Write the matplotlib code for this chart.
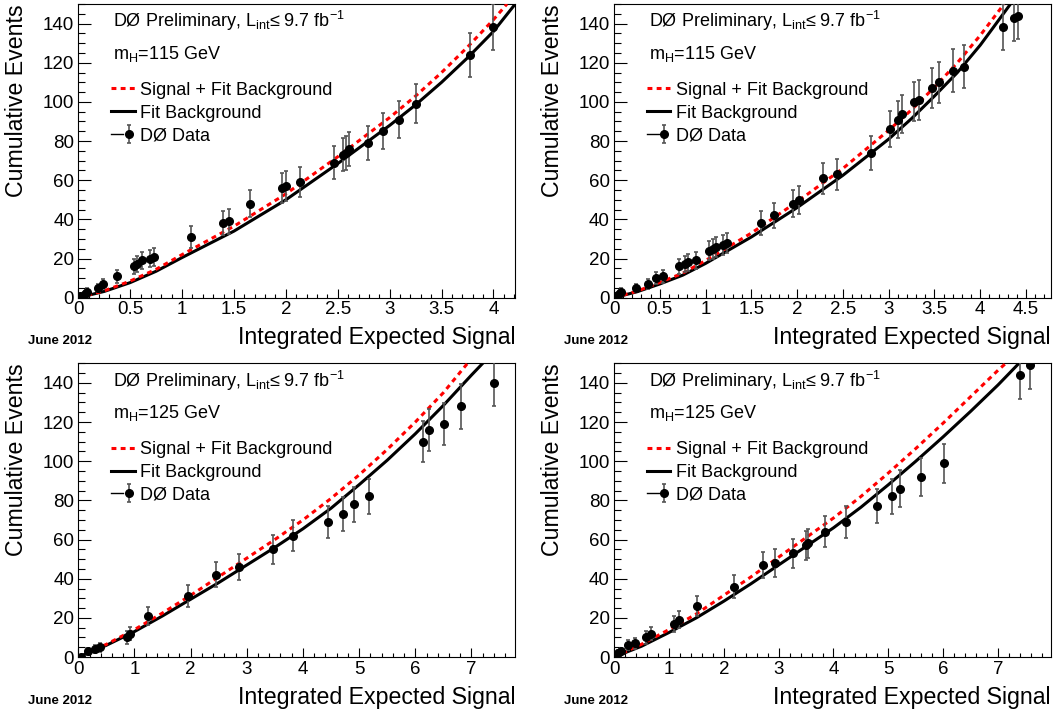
import numpy as np
import matplotlib
matplotlib.use('Agg')
import matplotlib.pyplot as plt
from matplotlib.ticker import MultipleLocator
from matplotlib.lines import Line2D
from matplotlib.legend_handler import HandlerTuple

plt.rcParams['font.family'] = ['Liberation Sans', 'DejaVu Sans']
plt.rcParams['mathtext.fontset'] = 'custom'
plt.rcParams['mathtext.rm'] = 'Liberation Sans'
plt.rcParams['mathtext.it'] = 'Liberation Sans:italic'

# ---- panel 1 : mH = 115 GeV (left) ----
data1_x = [0.02, 0.06, 0.08, 0.19, 0.24, 0.37, 0.54, 0.57, 0.61, 0.69, 0.73, 1.09, 1.395, 1.45,
           1.65, 1.96, 2.0, 2.14, 2.46, 2.55, 2.58, 2.61, 2.79, 2.94, 3.09, 3.25, 3.77, 4.0]
data1_y = [1, 2, 3, 5, 7, 11, 16, 17, 19, 20, 21, 31, 38, 39,
           48, 56, 57, 59, 69, 73, 74, 76, 79, 85, 91, 99, 124, 138]
bkg1_x = [0, 0.25, 0.5, 0.75, 1, 1.5, 2, 2.5, 3, 3.25, 3.5, 3.75, 4, 4.21]
bkg1_y = [0, 3.2, 7.7, 13.5, 20.5, 34, 50, 68.5, 88, 98.5, 110, 122.5, 136, 150]
sig1_x = [0, 0.25, 0.5, 0.75, 1, 1.5, 2, 2.5, 3, 3.25, 3.5, 3.75, 4, 4.13]
sig1_y = [0, 3.5, 8.5, 14.5, 22, 36.5, 53, 72, 92, 103, 115, 128, 142, 150]

# ---- panel 2 : mH = 115 GeV (right) ----
data2_x = [0.02, 0.055, 0.08, 0.24, 0.37, 0.46, 0.54, 0.71, 0.78, 0.81, 0.90, 1.04, 1.08, 1.11,
           1.19, 1.23, 1.60, 1.75, 1.95, 2.02, 2.28, 2.44, 2.81, 3.01, 3.10, 3.14, 3.28, 3.33,
           3.47, 3.55, 3.70, 3.82, 4.25, 4.37, 4.41]
data2_y = [1, 2, 3, 5, 7, 10, 11, 16, 17, 18, 19, 24, 25, 26,
           27, 28, 38, 42, 48, 50, 61, 63, 74, 86, 91, 94, 100, 101,
           107, 110, 116, 118, 138, 143, 144]
bkg2_x = [0, 0.25, 0.5, 0.75, 1, 1.5, 2, 2.5, 3, 3.25, 3.5, 3.75, 4, 4.15, 4.33]
bkg2_y = [0, 3, 7, 11.5, 17.5, 31, 46, 62.5, 81, 91.5, 103, 115, 129, 138.5, 150]
sig2_x = [0, 0.25, 0.5, 0.75, 1, 1.5, 2, 2.5, 3, 3.25, 3.5, 3.75, 4, 4.26]
sig2_y = [0, 3.3, 7.8, 12.5, 19, 33, 49, 66, 85.5, 96, 107.5, 120, 134, 150]

# ---- panel 3 : mH = 125 GeV (left) ----
data3_x = [0.05, 0.17, 0.30, 0.39, 0.87, 0.92, 1.24, 1.95, 2.45, 2.86, 3.46, 3.82, 4.45,
           4.72, 4.91, 5.18, 6.13, 6.25, 6.51, 6.81, 7.40]
data3_y = [0, 3, 4, 5, 10, 12, 21, 31, 42, 46, 55, 62, 69,
           73, 78, 82, 110, 116, 119, 128, 140]
bkg3_x = [0, 0.5, 1, 1.5, 2, 2.5, 3, 3.5, 4, 4.5, 5, 5.5, 6, 6.5, 7, 7.2]
bkg3_y = [0, 6, 13, 21, 29.5, 38, 47, 56, 65.5, 76, 88, 100.5, 114, 128.5, 144, 150]
sig3_x = [0, 0.5, 1, 1.5, 2, 2.5, 3, 3.5, 4, 4.5, 5, 5.5, 6, 6.5, 6.93]
sig3_y = [0, 6.5, 14, 22.5, 31.5, 41, 50.5, 60, 70, 81, 93, 106, 120, 135, 150]

# ---- panel 4 : mH = 125 GeV (right) ----
data4_x = [0.01, 0.07, 0.13, 0.26, 0.38, 0.58, 0.67, 1.09, 1.18, 1.51, 2.19, 2.72, 2.94,
           3.26, 3.49, 3.53, 3.84, 4.23, 4.80, 5.06, 5.21, 5.60, 6.02, 7.40, 7.59]
data4_y = [0, 2, 3, 6, 7, 10, 12, 17, 19, 26, 36, 47, 48,
           53, 57, 58, 64, 69, 77, 82, 86, 92, 99, 144, 149]
bkg4_x = [0, 0.5, 1, 1.5, 2, 2.5, 3, 3.5, 4, 4.5, 5, 5.5, 6, 6.5, 7, 7.38]
bkg4_y = [0, 5.5, 12.5, 20, 28.5, 37.5, 47, 56.5, 66, 76.5, 88, 100, 112.5, 125.5, 139, 150]
sig4_x = [0, 0.5, 1, 1.5, 2, 2.5, 3, 3.5, 4, 4.5, 5, 5.5, 6, 6.5, 7, 7.14]
sig4_y = [0, 6.5, 14, 22, 31.5, 41, 51, 61, 71, 82, 94, 106.5, 119.5, 133, 146.5, 150]

panels = [
    (data1_x, data1_y, bkg1_x, bkg1_y, sig1_x, sig1_y, 115, 4.21, 0.5),
    (data2_x, data2_y, bkg2_x, bkg2_y, sig2_x, sig2_y, 115, 4.77, 0.5),
    (data3_x, data3_y, bkg3_x, bkg3_y, sig3_x, sig3_y, 125, 7.78, 1.0),
    (data4_x, data4_y, bkg4_x, bkg4_y, sig4_x, sig4_y, 125, 7.96, 1.0),
]
axes_pos = [
    [0.0742, 0.5819, 0.4142, 0.4125],
    [0.5820, 0.5819, 0.4140, 0.4125],
    [0.0742, 0.0772, 0.4142, 0.4125],
    [0.5820, 0.0772, 0.4140, 0.4125],
]

fig = plt.figure(figsize=(10.55, 7.12), dpi=100)

for pos, (dx, dy, bx, by, sx, sy, mh, xmax, major) in zip(axes_pos, panels):
    ax = fig.add_axes(pos)
    dx = np.array(dx)
    dy = np.array(dy)

    # fit curves, then data with poisson errors
    ax.plot(bx, by, color='black', lw=2.2, solid_joinstyle='round', zorder=2)
    ax.plot(sx, sy, color='#ff0000', lw=2.2, dashes=(1.6, 1.4), zorder=3)
    eb = ax.errorbar(dx, dy, yerr=np.sqrt(dy), fmt='o', color='black', ms=5.5,
                     ecolor='#555555', elinewidth=1.2, capsize=1.5, capthick=1.2, zorder=4)

    ax.set_xlim(0, xmax)
    ax.set_ylim(0, 150)
    ax.xaxis.set_major_locator(MultipleLocator(major))
    ax.xaxis.set_minor_locator(MultipleLocator(major / 5))
    ax.yaxis.set_major_locator(MultipleLocator(20))
    ax.yaxis.set_minor_locator(MultipleLocator(5))
    ax.xaxis.set_major_formatter(plt.FuncFormatter(lambda v, p: '%g' % v))
    ax.tick_params(axis='both', which='both', direction='in', labelsize=13.5,
                   top=False, right=False, width=0.8)
    ax.tick_params(axis='x', which='major', length=6.3, pad=2.5)
    ax.tick_params(axis='x', which='minor', length=3.2)
    ax.tick_params(axis='y', which='major', length=9.4, pad=3)
    ax.tick_params(axis='y', which='minor', length=4.7)
    for s in ax.spines.values():
        s.set_linewidth(0.8)

    ax.set_xlabel('Integrated Expected Signal', fontsize=16.7, loc='right')
    ax.xaxis.set_label_coords(1.0, -0.098)
    ax.set_ylabel('Cumulative Events', fontsize=16.7, loc='top')
    ax.yaxis.set_label_coords(-0.115, 1.0)

    ax.text(0.080, 0.921, r'DØ Preliminary, L$_{\mathrm{int}}$≤ 9.7 fb$^{-1}$',
            transform=ax.transAxes, fontsize=13, va='baseline')
    ax.text(0.080, 0.813, r'm$_{\mathrm{H}}$=%d GeV' % mh,
            transform=ax.transAxes, fontsize=13, va='baseline')
    ax.text(-0.114, -0.149, 'June 2012', transform=ax.transAxes, fontsize=9.5,
            fontweight='bold', va='center')

    h_sig = Line2D([], [], color='#ff0000', lw=2.2, dashes=(1.6, 1.4))
    h_bkg = Line2D([], [], color='black', lw=2.2)
    h_line = Line2D([], [], color='black', lw=1)
    ax.legend([h_sig, h_bkg, (h_line, eb)],
              ['Signal + Fit Background', 'Fit Background', 'DØ Data'],
              handler_map={tuple: HandlerTuple(ndivide=None)},
              loc='upper left', bbox_to_anchor=(0.075, 0.735), frameon=False,
              fontsize=13, handlelength=1.3, handletextpad=0.3, labelspacing=0.32,
              borderpad=0, borderaxespad=0)

fig.savefig('out.png', dpi=100)
